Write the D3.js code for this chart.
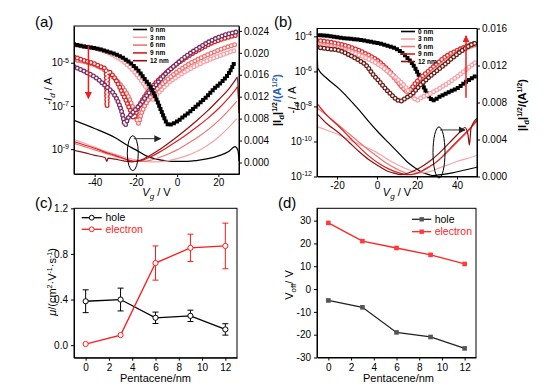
<!DOCTYPE html>
<html>
<head>
<meta charset="utf-8">
<script src="https://cdn.jsdelivr.net/npm/d3@7"></script>
<style>
  body { margin: 0; background: #fff; }
  svg { font-family: "Liberation Sans", Arial, sans-serif; }
</style>
</head>
<body>
<div id="chart"></div>
<script>
// ---------- data ----------
const thickness = ['0 nm', '3 nm', '6 nm', '9 nm', '12 nm']

// panel (a): [Vg, log10(-Id)]
const aLog0  = [[-50,-4.15],[-45,-4.25],[-40,-4.32],[-35,-4.45],[-30,-4.6],[-25,-4.85],[-21,-5.15],[-18,-5.45],[-16,-5.72],[-13,-6.1],[-10,-6.7],[-8,-7.15],[-6.5,-7.5],[-5,-7.8],[-4,-7.88],[-2,-7.82],[0,-7.72],[3,-7.5],[6,-7.28],[10,-6.95],[14,-6.6],[18,-6.2],[22,-5.85],[25,-5.5],[28,-4.95]]
const aLog3  = [[-50,-4.18],[-45,-4.25],[-40,-4.33],[-35,-4.47],[-30,-4.7],[-25,-5.02],[-20,-5.5],[-17,-5.88],[-14,-6.3],[-12.5,-6.55],[-11.5,-6.72],[-10,-6.5],[-7,-6.2],[-4,-5.92],[0,-5.65],[5,-5.35],[10,-5.1],[15,-4.88],[20,-4.7],[25,-4.52],[29,-4.41]]
const aLog6  = [[-50,-4.87],[-45,-4.95],[-40,-5.1],[-35,-5.35],[-30,-5.75],[-26,-6.2],[-23.5,-6.6],[-21.5,-7.05],[-20,-7.45],[-18.8,-7.8],[-17.5,-7.4],[-16,-7.05],[-13,-6.6],[-10,-6.25],[-5,-5.8],[0,-5.42],[5,-5.1],[11,-4.8],[16,-4.58],[22,-4.35],[29,-4.13]]
const aLog9  = [[-50,-4.72],[-45,-4.9],[-40,-5.05],[-37,-5.18],[-34.5,-5.3],[-34,-7.0],[-33.5,-5.4],[-30.7,-5.65],[-28,-6.1],[-26.5,-6.42],[-25,-6.7],[-23.5,-7.04],[-22,-7.35],[-21,-7.55],[-19,-7.1],[-16,-6.6],[-12,-6.1],[-8,-5.7],[-4,-5.35],[0,-5.05],[5,-4.72],[11,-4.38],[16,-4.12],[22,-3.9],[29,-3.72]]
const aLog12 = [[-50,-5.18],[-45,-5.4],[-40,-5.65],[-35,-6.05],[-30,-6.55],[-28,-6.95],[-26.5,-7.4],[-25.2,-7.88],[-24,-7.6],[-22,-7.35],[-20,-7.15],[-18,-6.95],[-15,-6.55],[-11,-6.1],[-6,-5.55],[0,-5.03],[5,-4.65],[11,-4.28],[16,-4.0],[22,-3.75],[29,-3.57]]

// panel (a): [Vg, |Id|^1/2]
const aSq0  = [[-50,0.0077],[-40,0.0062],[-30,0.0045],[-24,0.0031],[-20,0.0023],[-15,0.0012],[-10,0.0006],[-5,0.0003],[0,0.0002],[5,0.0002],[10,0.0004],[15,0.0007],[20,0.0012],[25,0.0020],[28,0.0029],[29.5,0.0022],[30,0.0003]]
const aSq3  = [[-50,0.0042],[-45,0.0035],[-40,0.0028],[-35,0.0021],[-30,0.0015],[-25,0.0009],[-20,0.0005],[-15,0.0002],[-10,0.0001],[-5,0.0003],[0,0.0007],[5,0.0013],[10,0.0021],[15,0.0032],[20,0.0046],[25,0.0064],[29,0.0080]]
const aSq6  = [[-50,0.0035],[-45,0.0029],[-40,0.0023],[-35,0.0017],[-30,0.0011],[-25,0.0006],[-20,0.0002],[-16,0.0002],[-12,0.0005],[-8,0.0010],[-4,0.0016],[0,0.0023],[5,0.0034],[10,0.0046],[15,0.0060],[20,0.0076],[25,0.0095],[29,0.0112]]
const aSq9  = [[-50,0.0038],[-45,0.0032],[-40,0.0026],[-35,0.0019],[-30,0.0013],[-25,0.0006],[-21,0.0002],[-17,0.0004],[-13,0.0010],[-9,0.0018],[-5,0.0027],[0,0.0039],[5,0.0052],[10,0.0066],[15,0.0081],[20,0.0098],[25,0.0118],[28.5,0.0134],[29.3,0.0138],[30,0.0095]]
const aSq12 = [[-50,0.0022],[-45,0.0018],[-40,0.0013],[-35,0.0009],[-34,0.0002],[-33.5,0.0008],[-30,0.0006],[-26,0.0003],[-22,0.0001],[-18,0.0004],[-14,0.0011],[-10,0.0020],[-5,0.0033],[0,0.0047],[5,0.0062],[10,0.0078],[15,0.0095],[20,0.0114],[25,0.0134],[28.5,0.0152],[29.2,0.0156],[30,0.0090]]

// panel (b): [Vg, log10(-Id)]
const bLog0  = [[-30,-3.93],[-25,-3.97],[-19,-4.07],[-10,-4.18],[-2,-4.33],[5,-4.52],[11,-4.8],[15,-5.2],[17.7,-5.56],[19.5,-5.9],[21,-6.23],[23.5,-6.93],[25,-7.25],[26.5,-7.5],[27.7,-7.66],[29,-7.62],[31,-7.47],[34,-7.3],[37.7,-7.09],[41,-6.9],[44.3,-6.61],[47,-6.42],[50,-6.2]]
const bLog3  = [[-30,-4.51],[-25,-4.6],[-20,-4.72],[-15,-4.85],[-10.7,-4.99],[-5,-5.25],[0,-5.55],[2.7,-5.75],[6,-6.05],[11,-6.51],[14,-6.85],[16,-7.18],[18,-7.45],[20,-7.66],[22,-7.5],[25,-7.35],[30,-7.05],[35,-6.7],[40,-6.3],[45,-5.85],[50,-5.4]]
const bLog6  = [[-30,-4.42],[-25,-4.5],[-20,-4.6],[-15,-4.75],[-10,-4.95],[-5,-5.2],[0,-5.5],[5,-5.95],[10,-6.55],[13,-6.95],[15.5,-7.2],[17,-7.25],[19,-7.05],[21,-6.8],[25,-6.3],[30,-5.8],[35,-5.35],[40,-4.95],[45,-4.65],[50,-4.45]]
const bLog9  = [[-30,-4.23],[-25,-4.3],[-20,-4.4],[-15,-4.55],[-10,-4.75],[-5,-5.02],[0,-5.35],[5,-5.85],[9,-6.35],[12,-6.8],[14,-7.05],[15.5,-7.15],[17,-7.0],[19,-6.7],[22,-6.35],[26,-5.95],[30,-5.55],[35,-5.1],[40,-4.8],[45,-4.55],[50,-4.35]]
const bLog12 = [[-30,-4.61],[-25,-4.7],[-19,-4.8],[-14,-5.05],[-9,-5.37],[-5,-5.7],[-2.3,-6.13],[1,-6.55],[4.3,-6.99],[7,-7.3],[9.3,-7.56],[11.8,-7.7],[14,-7.55],[17.7,-7.27],[21,-6.85],[26,-6.33],[30,-5.95],[34.3,-5.56],[38,-5.2],[42.7,-4.8],[46,-4.55],[50,-4.35]]

// panel (b): [Vg, |Id|^1/2]
const bSq0  = [[-30,0.0152],[-29.6,0.0117],[-25,0.0106],[-19,0.0095],[-14,0.0084],[-9,0.0072],[-4,0.0059],[1,0.0047],[6,0.0036],[11,0.0025],[15,0.0016],[19.3,0.0009],[23,0.0004],[26,0.0002],[28,0.0001],[32,0.0002],[37.7,0.0004],[44,0.0007],[50,0.0010]]
const bSq3  = [[-30,0.0054],[-25,0.0050],[-20,0.0046],[-15,0.0041],[-10,0.0036],[-5,0.0031],[0,0.0026],[5,0.0019],[10,0.0013],[15,0.0008],[19,0.0005],[22,0.0004],[26,0.0005],[31,0.0009],[36,0.0013],[41,0.0017],[46,0.0020],[50,0.0023]]
const bSq6  = [[-30,0.0074],[-25,0.0066],[-20,0.0057],[-15,0.0048],[-10,0.0039],[-5,0.0030],[0,0.0022],[5,0.0014],[10,0.0008],[14,0.0004],[17,0.0002],[21,0.0004],[26,0.0010],[31,0.0018],[36,0.0028],[41,0.0039],[46,0.0050],[50,0.0060]]
const bSq9  = [[-30,0.0079],[-25,0.0066],[-19,0.0054],[-14,0.0043],[-9,0.0032],[-4,0.0022],[1,0.0014],[6,0.0008],[11,0.0004],[15,0.0002],[19,0.0003],[24,0.0008],[31,0.0018],[36,0.0029],[41,0.0040],[46,0.0051],[50,0.0061]]
const bSq12 = [[-30,0.0068],[-25,0.0057],[-19,0.0047],[-14,0.0037],[-9,0.0027],[-4,0.0018],[1,0.0011],[5,0.0006],[8,0.0004],[12,0.0002],[16,0.0004],[21,0.0009],[26,0.0016],[31,0.0025],[36,0.0036],[41,0.0047],[44,0.0053],[45.5,0.0045],[46.2,0.0034],[47,0.0052],[50,0.0063]]

// panels (c) and (d)
const pentacene   = [0, 3, 6, 9, 12]
const muHole      = [0.385, 0.40, 0.24, 0.257, 0.138]
const muHoleErr   = [0.10, 0.10, 0.05, 0.05, 0.05]
const muElectron  = [0.01, 0.088, 0.72, 0.853, 0.87]
const muElecErr   = [0, 0, 0.15, 0.12, 0.20]
const vOffHole    = [-5, -8, -19, -21, -26]
const vOffElec    = [29, 21, 18, 15, 11]

// ---------- drawing ----------
const WIDTH = 544
const HEIGHT = 389
const lineColours = ['#000000', '#f7a3a8', '#ef7474', '#dc1e1e', '#8c1212']

const svg = d3.select('#chart').append('svg')
    .attr('width', WIDTH)
    .attr('height', HEIGHT)

const defs = svg.append('defs')
function arrowHead(id, colour) {
    defs.append('marker')
        .attr('id', id)
        .attr('viewBox', '0 0 10 10')
        .attr('refX', 9).attr('refY', 5)
        .attr('markerWidth', 7).attr('markerHeight', 7)
        .attr('markerUnits', 'userSpaceOnUse')
        .attr('orient', 'auto')
        .append('path').attr('d', 'M0,0 L10,5 L0,10 z').attr('fill', colour)
}
arrowHead('headBlack', '#222')
arrowHead('headRed', '#ee1c1c')

function styleAxis(g, fontSize) {
    g.select('.domain').attr('stroke', '#000').attr('stroke-width', 1)
    g.selectAll('.tick line').attr('stroke', '#000')
    g.selectAll('.tick text').attr('font-size', fontSize).attr('fill', '#000')
        .attr('font-family', '"Liberation Sans", Arial, sans-serif')
}

function frame(box) {
    svg.append('rect')
        .attr('x', box.L).attr('y', box.T)
        .attr('width', box.R - box.L).attr('height', box.B - box.T)
        .attr('fill', 'none').attr('stroke', '#000').attr('stroke-width', 1)
}

function panelLetter(txt, x, y) {
    svg.append('text').attr('x', x).attr('y', y).attr('font-size', 15).text(txt)
}

// transfer curve panel: log markers on left axis, sqrt lines on right axis
function drawTransfer(cfg) {
    const box = cfg.box
    const x = d3.scaleLinear().domain(cfg.xDomain).range([box.L, box.R])
    const yLog = d3.scaleLog().domain(cfg.logDomain).range([box.B, box.T])
    const ySq = d3.scaleLinear().domain(cfg.sqDomain).range([box.B, box.T])

    const clipId = 'clip' + cfg.name
    defs.append('clipPath').attr('id', clipId).append('rect')
        .attr('x', box.L).attr('y', box.T - 2)
        .attr('width', box.R - box.L).attr('height', box.B - box.T + 2)
    const plot = svg.append('g').attr('clip-path', `url(#${clipId})`)

    const logLine = d3.line().x(d => x(d[0])).y(d => yLog(Math.pow(10, d[1]))).curve(d3.curveMonotoneX)
    const sqLine = d3.line().x(d => x(d[0])).y(d => ySq(d[1])).curve(d3.curveMonotoneX)

    // sqrt curves (thin lines)
    cfg.sq.forEach((s, i) => {
        plot.append('path').attr('d', sqLine(s))
            .attr('fill', 'none').attr('stroke', lineColours[i]).attr('stroke-width', 1.2)
    })

    // log curves drawn as a row of marker dots along the line
    cfg.drawOrder.forEach(i => {
        const d = logLine(cfg.log[i])
        if (i === 0) {
            plot.append('path').attr('d', d).attr('fill', 'none')
                .attr('stroke', '#000').attr('stroke-width', 4)
                .attr('stroke-linecap', 'square').attr('stroke-dasharray', '0 3.4')
        } else {
            plot.append('path').attr('d', d).attr('fill', 'none')
                .attr('stroke', cfg.markerColours[i]).attr('stroke-width', 5)
                .attr('stroke-linecap', 'round').attr('stroke-dasharray', '0 3.6')
            plot.append('path').attr('d', d).attr('fill', 'none')
                .attr('stroke', '#fff').attr('stroke-width', 2.4)
                .attr('stroke-linecap', 'round').attr('stroke-dasharray', '0 3.6')
        }
    })

    // axes
    const gx = svg.append('g').attr('transform', `translate(0,${box.B})`)
        .call(d3.axisBottom(x).tickValues(cfg.xTicks).tickSize(3).tickSizeOuter(0).tickPadding(2)
            .tickFormat(d3.format('d')))
    styleAxis(gx, 10)
    gx.selectAll('.tick text').text(d => String(d))

    const gl = svg.append('g').attr('transform', `translate(${box.L},0)`)
        .call(d3.axisLeft(yLog).tickValues(cfg.logTicks).tickSize(3).tickSizeOuter(0).tickPadding(2)
            .tickFormat(() => ''))
    styleAxis(gl, 10)
    gl.selectAll('.tick text').each(function (d) {
        const t = d3.select(this)
        t.text('10')
        t.append('tspan').attr('dy', '-0.55em').attr('font-size', 7)
            .text('-' + Math.abs(Math.round(Math.log10(d))))
    })

    const gr = svg.append('g').attr('transform', `translate(${box.R},0)`)
        .call(d3.axisRight(ySq).tickValues(cfg.sqTicks).tickSize(3).tickSizeOuter(0).tickPadding(2)
            .tickFormat(d3.format('.3f')))
    styleAxis(gr, 10)

    frame(box)

    // axis titles
    const xt = svg.append('text').attr('x', (box.L + box.R) / 2).attr('y', cfg.xTitleY)
        .attr('text-anchor', 'middle').attr('font-size', 11)
    xt.append('tspan').attr('font-style', 'italic').text('V')
    xt.append('tspan').attr('dy', 3).attr('font-size', 8).attr('font-style', 'italic').text('g')
    xt.append('tspan').attr('dy', -3).text(' / V')

    const yt = svg.append('text')
        .attr('transform', `translate(${cfg.yTitle[0]},${cfg.yTitle[1]}) rotate(-90)`)
        .attr('text-anchor', 'middle').attr('font-size', 11)
    yt.append('tspan').text('-')
    yt.append('tspan').attr('font-style', 'italic').text('I')
    yt.append('tspan').attr('dy', 3).attr('font-size', 8).attr('font-style', 'italic').text('d')
    yt.append('tspan').attr('dy', -3).text(' / A')

    const rt = svg.append('text')
        .attr('transform', `translate(${cfg.rTitle[0]},${cfg.rTitle[1]}) rotate(-90)`)
        .attr('text-anchor', 'middle').attr('font-size', 11).attr('font-weight', 'bold')
    rt.append('tspan').text('|I')
    rt.append('tspan').attr('dy', 3).attr('font-size', 8).text('d')
    rt.append('tspan').attr('dy', -3).text('|')
    rt.append('tspan').attr('dy', -4).attr('font-size', 7).text('1/2')
    rt.append('tspan').attr('dy', 4).attr('fill', cfg.rTitleUnitColour).text('/(A')
    rt.append('tspan').attr('dy', -4).attr('font-size', 7).attr('fill', cfg.rTitleUnitColour).text('1/2')
    rt.append('tspan').attr('dy', 4).attr('fill', cfg.rTitleUnitColour).text(')')

    // legend
    const lg = svg.append('g')
    thickness.forEach((lab, i) => {
        const yy = cfg.legend.y + i * cfg.legend.dy
        lg.append('line').attr('x1', cfg.legend.x).attr('x2', cfg.legend.x + 14)
            .attr('y1', yy).attr('y2', yy).attr('stroke', lineColours[i]).attr('stroke-width', 1.6)
        lg.append('text').attr('x', cfg.legend.x + 17).attr('y', yy + 2.3)
            .attr('font-size', 6.5).attr('font-weight', 'bold').text(lab)
    })

    // annotations: red trend arrow, ellipse with arrow to right axis
    const ar = cfg.redArrow
    svg.append('line').attr('x1', x(ar.v)).attr('x2', x(ar.v))
        .attr('y1', yLog(Math.pow(10, ar.from))).attr('y2', yLog(Math.pow(10, ar.to)))
        .attr('stroke', '#ee1c1c').attr('stroke-width', 1.5).attr('marker-end', 'url(#headRed)')
    const el = cfg.ellipse
    const cx = x(el.v), cy = ySq(el.s)
    svg.append('ellipse').attr('cx', cx).attr('cy', cy).attr('rx', el.rx).attr('ry', el.ry)
        .attr('fill', 'none').attr('stroke', '#000').attr('stroke-width', 1)
    svg.append('line').attr('x1', cx + 1).attr('x2', x(el.arrowTo))
        .attr('y1', cy - el.ry + 3).attr('y2', cy - el.ry + 3)
        .attr('stroke', '#333').attr('stroke-width', 1).attr('marker-end', 'url(#headBlack)')
}

drawTransfer({
    name: 'A',
    box: {L: 74, R: 239, T: 26, B: 174},
    xDomain: [-50, 30], xTicks: [-40, -20, 0, 20],
    logDomain: [Math.pow(10, -10.15), Math.pow(10, -3.3)], logTicks: [1e-9, 1e-7, 1e-5],
    sqDomain: [-0.0021, 0.0249], sqTicks: [0, 0.004, 0.008, 0.012, 0.016, 0.020, 0.024],
    log: [aLog0, aLog3, aLog6, aLog9, aLog12],
    sq: [aSq0, aSq3, aSq6, aSq9, aSq12],
    drawOrder: [1, 2, 3, 4, 0],
    markerColours: ['#000', '#f6a2a8', '#ee7272', '#d42626', '#7a2c62'],
    xTitleY: 196, yTitle: [52, 91], rTitle: [281, 100], rTitleUnitColour: '#2a5fb5',
    legend: {x: 133, y: 29.5, dy: 7.8},
    redArrow: {v: -43, from: -4.2, to: -6.65},
    ellipse: {v: -21.5, s: 0.0017, rx: 5.5, ry: 17.5, arrowTo: -8}
})

drawTransfer({
    name: 'B',
    box: {L: 317, R: 477, T: 28.5, B: 176.5},
    xDomain: [-30, 50], xTicks: [-20, 0, 20, 40],
    logDomain: [1e-12, Math.pow(10, -3.55)], logTicks: [1e-12, 1e-10, 1e-8, 1e-6, 1e-4],
    sqDomain: [0, 0.016], sqTicks: [0, 0.004, 0.008, 0.012, 0.016],
    log: [bLog0, bLog3, bLog6, bLog9, bLog12],
    sq: [bSq0, bSq3, bSq6, bSq9, bSq12],
    drawOrder: [0, 3, 2, 1, 4],
    markerColours: ['#000', '#f6a2a8', '#ee7272', '#dc2a2a', '#6a1c14'],
    xTitleY: 196, yTitle: [296, 100], rTitle: [526, 105], rTitleUnitColour: '#000',
    legend: {x: 401, y: 31.5, dy: 7.5},
    redArrow: {v: 44.5, from: -7.5, to: -3.97},
    ellipse: {v: 31, s: 0.0026, rx: 6, ry: 25.5, arrowTo: 44}
})

panelLetter('(a)', 35, 27)
panelLetter('(b)', 274, 27)

// ---------- panel (c): mobility ----------
{
    const box = {L: 74, R: 237, T: 208.3, B: 357.7}
    const x = d3.scaleLinear().domain([-1, 13]).range([box.L, box.R])
    const y = d3.scaleLinear().domain([-0.11, 1.2]).range([box.B, box.T])

    const gx = svg.append('g').attr('transform', `translate(0,${box.B})`)
        .call(d3.axisBottom(x).tickValues([0, 2, 4, 6, 8, 10, 12]).tickSize(3).tickSizeOuter(0).tickPadding(3))
    styleAxis(gx, 10)
    const gy = svg.append('g').attr('transform', `translate(${box.L},0)`)
        .call(d3.axisLeft(y).tickValues([0, 0.4, 0.8, 1.2]).tickSize(3).tickSizeOuter(0).tickPadding(3)
            .tickFormat(d3.format('.1f')))
    styleAxis(gy, 10)
    frame(box)

    const series = [
        {vals: muHole, err: muHoleErr, colour: '#000'},
        {vals: muElectron, err: muElecErr, colour: '#ff1a1a'}
    ]
    const line = d3.line().x((d, i) => x(pentacene[i])).y(d => y(d))
    series.forEach(s => {
        svg.append('path').attr('d', line(s.vals)).attr('fill', 'none')
            .attr('stroke', s.colour).attr('stroke-width', 1.3)
        const eb = svg.append('g').attr('stroke', s.colour).attr('stroke-width', 1)
        s.vals.forEach((v, i) => {
            if (!s.err[i]) return
            const px = x(pentacene[i])
            eb.append('line').attr('x1', px).attr('x2', px).attr('y1', y(v - s.err[i])).attr('y2', y(v + s.err[i]))
            eb.append('line').attr('x1', px - 3).attr('x2', px + 3).attr('y1', y(v - s.err[i])).attr('y2', y(v - s.err[i]))
            eb.append('line').attr('x1', px - 3).attr('x2', px + 3).attr('y1', y(v + s.err[i])).attr('y2', y(v + s.err[i]))
        })
        svg.append('g').selectAll('circle').data(s.vals).enter().append('circle')
            .attr('cx', (d, i) => x(pentacene[i])).attr('cy', d => y(d)).attr('r', 2.6)
            .attr('fill', '#fff').attr('stroke', s.colour).attr('stroke-width', 1)
    })

    // legend
    const leg = [['hole', '#000', 217.7], ['electron', '#ff1a1a', 229.3]]
    leg.forEach(([lab, c, yy]) => {
        svg.append('line').attr('x1', 81.7).attr('x2', 101.7).attr('y1', yy).attr('y2', yy)
            .attr('stroke', c).attr('stroke-width', 1.3)
        svg.append('circle').attr('cx', 91.7).attr('cy', yy).attr('r', 2.4)
            .attr('fill', '#fff').attr('stroke', c)
        svg.append('text').attr('x', 105.5).attr('y', yy + 3.7).attr('font-size', 10.5)
            .attr('fill', c).text(lab)
    })

    svg.append('text').attr('x', (box.L + box.R) / 2).attr('y', 381.5)
        .attr('text-anchor', 'middle').attr('font-size', 11).text('Pentacene/nm')
    const yt = svg.append('text').attr('transform', 'translate(56,282) rotate(-90)')
        .attr('text-anchor', 'middle').attr('font-size', 11)
    yt.append('tspan').attr('font-style', 'italic').text('μ')
    yt.append('tspan').text('/(cm')
    yt.append('tspan').attr('dy', -4).attr('font-size', 7).text('2')
    yt.append('tspan').attr('dy', 4).text('·V')
    yt.append('tspan').attr('dy', -4).attr('font-size', 7).text('-1')
    yt.append('tspan').attr('dy', 4).text('·s')
    yt.append('tspan').attr('dy', -4).attr('font-size', 7).text('-1')
    yt.append('tspan').attr('dy', 4).text(')')
    panelLetter('(c)', 35, 208)
}

// ---------- panel (d): turn-off voltage ----------
{
    const box = {L: 317, R: 476, T: 208.3, B: 357.5}
    const x = d3.scaleLinear().domain([-1, 13]).range([box.L, box.R])
    const y = d3.scaleLinear().domain([-30, 35.4]).range([box.B, box.T])

    const gx = svg.append('g').attr('transform', `translate(0,${box.B})`)
        .call(d3.axisBottom(x).tickValues([0, 2, 4, 6, 8, 10, 12]).tickSize(3).tickSizeOuter(0).tickPadding(3))
    styleAxis(gx, 10)
    const gy = svg.append('g').attr('transform', `translate(${box.L},0)`)
        .call(d3.axisLeft(y).tickValues([-30, -20, -10, 0, 10, 20, 30]).tickSize(3).tickSizeOuter(0).tickPadding(3))
    styleAxis(gy, 10)
    gy.selectAll('.tick text').text(d => String(d))
    frame(box)

    const series = [
        {vals: vOffHole, colour: '#222', mark: '#555'},
        {vals: vOffElec, colour: '#ff2424', mark: '#ff3a3a'}
    ]
    const line = d3.line().x((d, i) => x(pentacene[i])).y(d => y(d))
    series.forEach(s => {
        svg.append('path').attr('d', line(s.vals)).attr('fill', 'none')
            .attr('stroke', s.colour).attr('stroke-width', 1.3)
        svg.append('g').selectAll('rect').data(s.vals).enter().append('rect')
            .attr('x', (d, i) => x(pentacene[i]) - 2.3).attr('y', d => y(d) - 2.3)
            .attr('width', 4.6).attr('height', 4.6).attr('fill', s.mark)
    })

    const leg = [['hole', '#222', '#555', 219.3], ['electron', '#ff2424', '#ff3a3a', 231.7]]
    leg.forEach(([lab, c, m, yy]) => {
        svg.append('line').attr('x1', 412).attr('x2', 431.3).attr('y1', yy).attr('y2', yy)
            .attr('stroke', c).attr('stroke-width', 1.3)
        svg.append('rect').attr('x', 421.7 - 2.2).attr('y', yy - 2.2).attr('width', 4.4).attr('height', 4.4)
            .attr('fill', m)
        svg.append('text').attr('x', 434.7).attr('y', yy + 3.7).attr('font-size', 10.5)
            .attr('fill', lab === 'hole' ? '#000' : '#ff2424').text(lab)
    })

    svg.append('text').attr('x', 398.5).attr('y', 381.5)
        .attr('text-anchor', 'middle').attr('font-size', 11).text('Pentacene/nm')
    const yt = svg.append('text').attr('transform', 'translate(292.5,285) rotate(-90)')
        .attr('text-anchor', 'middle').attr('font-size', 11)
    yt.append('tspan').text('V')
    yt.append('tspan').attr('dy', 3).attr('font-size', 8).text('off')
    yt.append('tspan').attr('dy', -3).text('/ V')
    panelLetter('(d)', 278, 208)
}
</script>
</body>
</html>
